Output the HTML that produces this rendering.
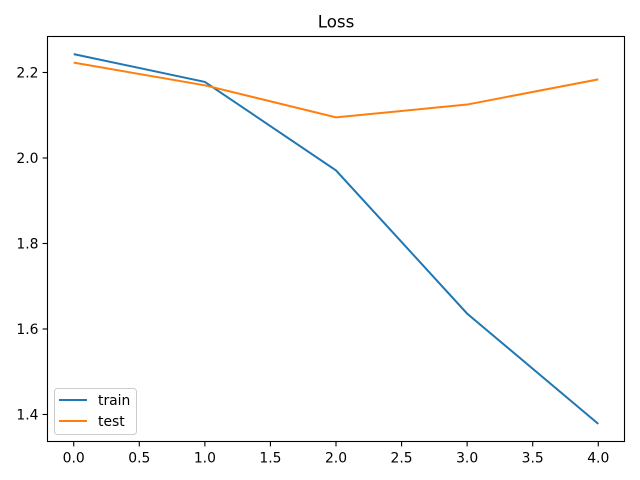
<!DOCTYPE html>
<html><head><meta charset="utf-8"><style>
body{margin:0;background:#fff;}
svg{display:block;font-family:"DejaVu Sans","Liberation Sans",sans-serif;}
</style></head><body>
<svg id="chart" width="640" height="480"></svg>
<script>
const epochs = [0, 1, 2, 3, 4];
const trainLoss = [2.243, 2.178, 1.971, 1.636, 1.378];
const testLoss = [2.223, 2.170, 2.095, 2.125, 2.184];
const xTicks = [0.0, 0.5, 1.0, 1.5, 2.0, 2.5, 3.0, 3.5, 4.0];
const yTicks = [1.4, 1.6, 1.8, 2.0, 2.2];

const L=47.5,R=624.5,T=36.5,B=441.5;
const xmin=-0.2,xmax=4.2,ymin=1.3368,ymax=2.2842;
const sx=v=>L+(v-xmin)/(xmax-xmin)*(R-L);
const sy=v=>B-(v-ymin)/(ymax-ymin)*(B-T);
const svg=document.getElementById('chart');
const NS='http://www.w3.org/2000/svg';
function mk(tag,attrs,txt){const e=document.createElementNS(NS,tag);for(const k in attrs)e.setAttribute(k,attrs[k]);if(txt!==undefined)e.textContent=txt;svg.appendChild(e);return e;}

xTicks.forEach(v=>{
  const x=sx(v);
  const t=mk('line',{x1:x,x2:x,y1:B,y2:B+4.9,stroke:'#000','stroke-width':1.1});
  
  
  const l=mk('text',{x:x,y:B+21,'text-anchor':'middle','font-size':13.9},v.toFixed(1));
  
  
});
yTicks.forEach(v=>{
  const y=sy(v);
  const t=mk('line',{x1:L-4.9,x2:L,y1:y,y2:y,stroke:'#000','stroke-width':1.1});
  
  
  const l=mk('text',{x:L-9,y:y+5,'text-anchor':'end','font-size':13.9},v.toFixed(1));
  
  
});

const p1=mk('polyline',{points:epochs.map((e,i)=>sx(e)+','+sy(trainLoss[i])).join(' '),fill:'none',stroke:'#1f77b4','stroke-width':2});


const p2=mk('polyline',{points:epochs.map((e,i)=>sx(e)+','+sy(testLoss[i])).join(' '),fill:'none',stroke:'#ff7f0e','stroke-width':2});



const fr=mk('rect',{x:L,y:T,width:R-L,height:B-T,fill:'none',stroke:'#000','stroke-width':1.1});


const ti=mk('text',{x:(L+R)/2,y:T-9,'text-anchor':'middle','font-size':16.7},'Loss');



const lg=mk('rect',{x:54.5,y:388.5,width:82,height:46,fill:'#fff',stroke:'#ccc','stroke-width':1,rx:3});


[['train','#1f77b4',400],['test','#ff7f0e',421]].forEach(([n,c,y])=>{
  const ln=mk('line',{x1:59,x2:87,y1:y,y2:y,stroke:c,'stroke-width':2});
  
  
  const tx=mk('text',{x:98,y:y+5,'font-size':13.9},n);
  
  
});
</script>
</body></html>
